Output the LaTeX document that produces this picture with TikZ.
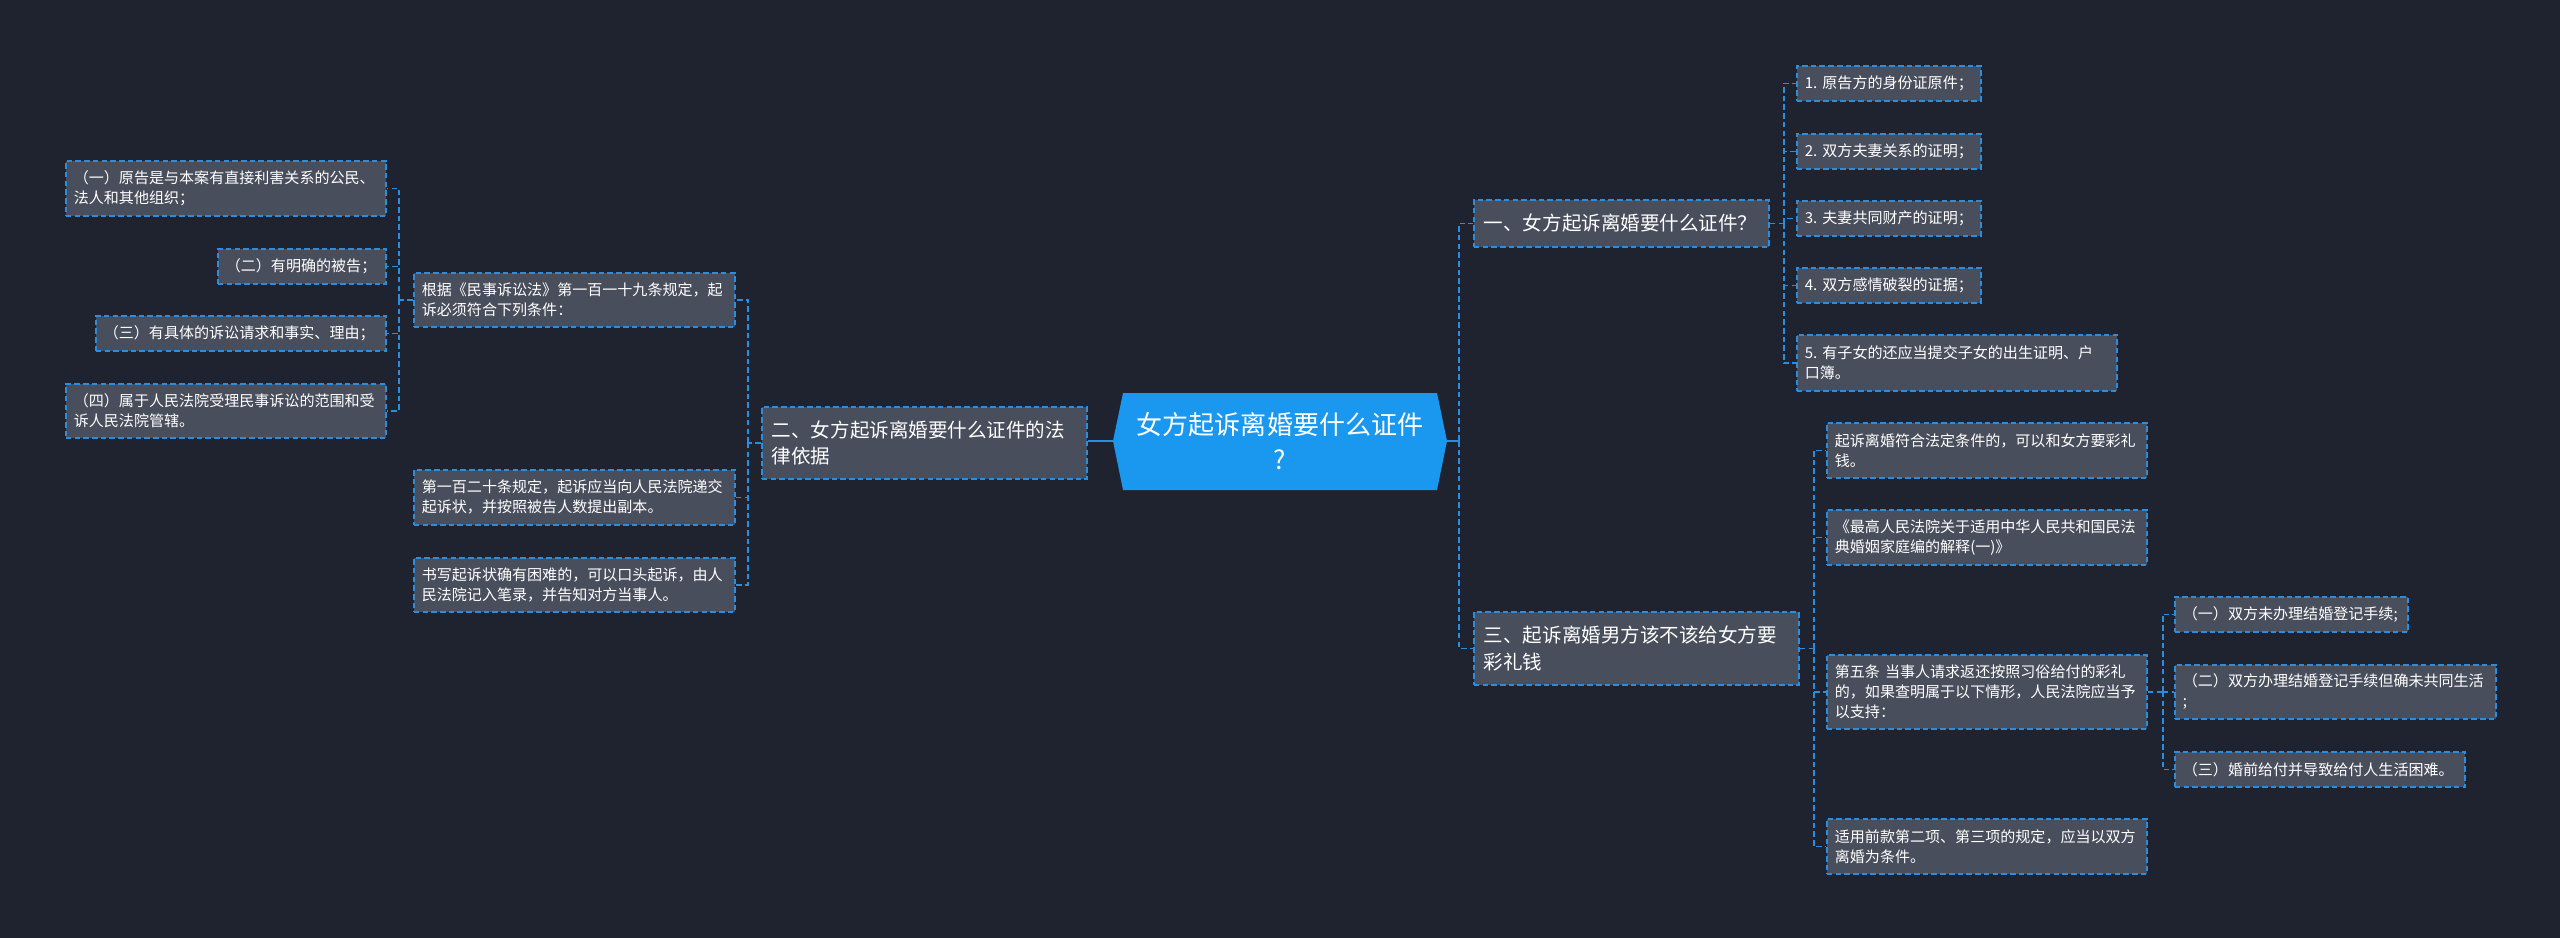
\documentclass[tikz,border=0pt]{standalone}
\usepackage{fontspec}
\setmainfont{Noto Sans CJK SC}

\definecolor{bgdark}{RGB}{31,35,48}
\definecolor{boxgray}{RGB}{73,78,92}
\definecolor{linkblue}{RGB}{41,141,224}
\definecolor{rootblue}{RGB}{26,152,240}

\begin{document}
\begin{tikzpicture}[
    x=0.025cm, y=-0.025cm, % 1 单位 = 参考图 1 像素
    font=\fontsize{10.7}{14.2}\selectfont,
    link/.style={linkblue, line width=1.2pt, dash pattern=on 4pt off 2.2pt},
    rootlink/.style={linkblue, line width=1.6pt},
    leaf/.style={draw=linkblue, fill=boxgray, text=white, line width=1.2pt,
        dash pattern=on 4pt off 2.2pt, anchor=north west, align=left,
        inner xsep=0.2cm, inner ysep=0pt},
    sect/.style={leaf, font=\fontsize{13.9}{18.9}\selectfont, inner xsep=0.25cm},
    roottext/.style={text=white, align=center, font=\fontsize{18.5}{24.8}\selectfont,
        minimum width=8.35cm, minimum height=2.425cm, inner sep=0pt}
  ]
  % --- 背景 ---
  \useasboundingbox (0,0) rectangle (2560,938);
  \fill[bgdark] (0,0) rectangle (2560,938);

  % --- 中心主题 (六边形) ---
  \fill[rootblue] (1113,441) -- (1123,393) -- (1437,393) -- (1447,441)
      -- (1437,490) -- (1123,490) -- cycle;
  \node[roottext] (root) at (1280,441) {女方起诉离婚要什么证件\\?};

  % --- 左侧：法律依据 ---
  \node[sect, text width=7.625cm, minimum height=1.8cm] (sec2) at (761,406)
      {二、女方起诉离婚要什么证件的法\\律依据};
  \node[leaf, text width=7.625cm, minimum height=1.35cm] (p1) at (413,272)
      {根据《民事诉讼法》第一百一十九条规定，起\\诉必须符合下列条件：};
  \node[leaf, text width=7.625cm, minimum height=1.375cm] (p2) at (413,469)
      {第一百二十条规定，起诉应当向人民法院递交\\起诉状，并按照被告人数提出副本。};
  \node[leaf, text width=7.625cm, minimum height=1.35cm] (p3) at (413,557)
      {书写起诉状确有困难的，可以口头起诉，由人\\民法院记入笔录，并告知对方当事人。};

  \node[leaf, text width=7.6cm, minimum height=1.375cm] (l1) at (65,160)
      {（一）原告是与本案有直接利害关系的公民、\\法人和其他组织；};
  \node[leaf, text width=3.8cm, minimum height=0.875cm] (l2) at (217,248)
      {（二）有明确的被告；};
  \node[leaf, text width=6.85cm, minimum height=0.875cm] (l3) at (95,315)
      {（三）有具体的诉讼请求和事实、理由；};
  \node[leaf, text width=7.6cm, minimum height=1.35cm] (l4) at (65,383)
      {（四）属于人民法院受理民事诉讼的范围和受\\诉人民法院管辖。};

  % --- 右侧：一、证件 ---
  \node[sect, text width=6.875cm, minimum height=1.175cm] (sec1) at (1473,199)
      {一、女方起诉离婚要什么证件？};
  \node[leaf, text width=4.2cm, minimum height=0.875cm] (it1) at (1796,65)
      {1.~原告方的身份证原件；};
  \node[leaf, text width=4.2cm, minimum height=0.875cm] (it2) at (1796,133)
      {2.~双方夫妻关系的证明；};
  \node[leaf, text width=4.2cm, minimum height=0.875cm] (it3) at (1796,200)
      {3.~夫妻共同财产的证明；};
  \node[leaf, text width=4.2cm, minimum height=0.875cm] (it4) at (1796,267)
      {4.~双方感情破裂的证据；};
  \node[leaf, text width=7.6cm, minimum height=1.4cm] (it5) at (1796,334)
      {5.~有子女的还应当提交子女的出生证明、户\\口簿。};

  % --- 右侧：三、彩礼 ---
  \node[sect, text width=7.625cm, minimum height=1.825cm] (sec3) at (1473,611)
      {三、起诉离婚男方该不该给女方要\\彩礼钱};
  \node[leaf, text width=7.6cm, minimum height=1.375cm] (m1) at (1826,422)
      {起诉离婚符合法定条件的，可以和女方要彩礼\\钱。};
  \node[leaf, text width=7.6cm, minimum height=1.375cm] (m2) at (1826,509)
      {《最高人民法院关于适用中华人民共和国民法\\典婚姻家庭编的解释(一)》};
  \node[leaf, text width=7.6cm, minimum height=1.85cm] (m3) at (1826,654)
      {第五条 当事人请求返还按照习俗给付的彩礼\\的，如果查明属于以下情形，人民法院应当予\\以支持：};
  \node[leaf, text width=7.6cm, minimum height=1.375cm] (m4) at (1826,818)
      {适用前款第二项、第三项的规定，应当以双方\\离婚为条件。};

  \node[leaf, text width=5.425cm, minimum height=0.875cm] (k1) at (2174,596)
      {（一）双方未办理结婚登记手续;};
  \node[leaf, text width=7.625cm, minimum height=1.35cm] (k2) at (2174,664)
      {（二）双方办理结婚登记手续但确未共同生活\\;};
  \node[leaf, text width=6.85cm, minimum height=0.875cm] (k3) at (2174,751)
      {（三）婚前给付并导致给付人生活困难。};

  % --- 连线 ---
  \draw[rootlink] (root.west) -- (root.west -| sec2.east);
  \draw[rootlink] (root.east) -- ++(12,0) coordinate (rj);
  \draw[link] (rj) |- (sec1.west);
  \draw[link] (rj) |- (sec3.west);

  \draw[link] (sec2.west) -- ++(-13,0) coordinate (j2);
  \foreach \i in {1,...,3} {
      \draw[link] (j2) |- (p\i.east);
  }
  \draw[link] (p1.west) -- ++(-14,0) coordinate (jp);
  \foreach \i in {1,...,4} {
      \draw[link] (jp) |- (l\i.east);
  }

  \draw[link] (sec1.east) -- ++(14,0) coordinate (j1);
  \foreach \i in {1,...,5} {
      \draw[link] (j1) |- (it\i.west);
  }
  \draw[link] (sec3.east) -- ++(14,0) coordinate (j3);
  \foreach \i in {1,...,4} {
      \draw[link] (j3) |- (m\i.west);
  }
  \draw[link] (m3.east) -- ++(15,0) coordinate (jm);
  \foreach \i in {1,...,3} {
      \draw[link] (jm) |- (k\i.west);
  }
\end{tikzpicture}
\end{document}
